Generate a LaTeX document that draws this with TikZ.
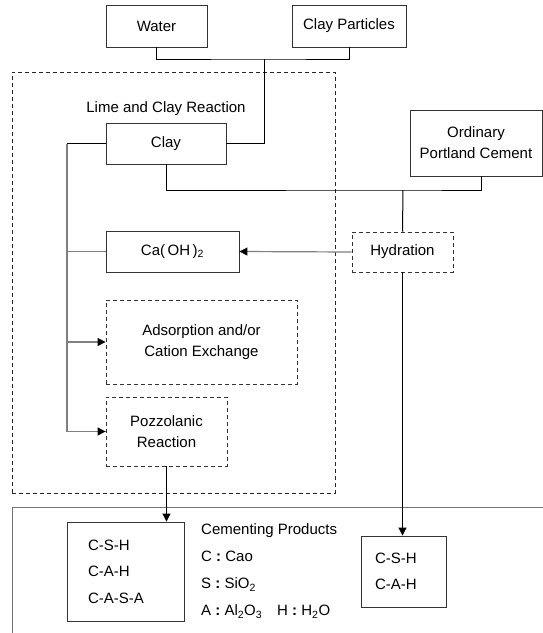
\documentclass[tikz,border=0pt]{standalone}
\usepackage{fontspec}
\setmainfont{Liberation Sans}
\usetikzlibrary{arrows.meta}

\begin{document}
\begin{tikzpicture}[
  x=1pt,y=-1pt,
  font=\fontsize{15}{21}\selectfont,
  box/.style={draw=black!80,line width=.9pt,fill=white,align=center,inner sep=2pt},
  dbox/.style={box,dash pattern=on 4pt off 3pt},
  region/.style={draw=black!85,line width=.9pt,dash pattern=on 4pt off 3pt,inner sep=0pt},
  bus/.style={draw=black,line width=1pt},
  branch/.style={draw=black!50,line width=1.4pt},
  arr/.style={draw=black!50,line width=1.2pt,-{Triangle[length=8pt,width=8pt,black]}},
  darr/.style={draw=black,line width=1pt,-{Triangle[length=8pt,width=8pt]}},
  frame/.style={draw=black!55,line width=1pt},
  listbox/.style={box,align=left,font=\fontsize{15}{26.5}\selectfont}
]
\useasboundingbox (0,0) rectangle (543,633);

\node[region,minimum width=323pt,minimum height=421pt] (lime) at (173.5,282.5) {};
\draw[frame] (12,633) |- (543,507);

\node[box,minimum width=101pt,minimum height=42pt] (water) at (156.5,26) {Water};
\node[box,minimum width=114pt,minimum height=42pt] (clayp) at (349,26) {Clay Particles};
\node (limelabel) at (166,109) {Lime and Clay Reaction};
\node[box,minimum width=120pt,minimum height=41pt] (clay) at (166,143.5) {Clay};
\node[box,minimum width=132pt,minimum height=66pt] (opc) at (476,143) {Ordinary\\Portland Cement};
\node[box,minimum width=133pt,minimum height=41pt] (caoh) at (172.5,251.5) {Ca(\,OH\,)\textsubscript{2}};
\node[dbox,minimum width=101pt,minimum height=40pt] (hyd) at (402.5,252) {Hydration};
\node[dbox,minimum width=191pt,minimum height=84pt] (adsorp) at (201.5,342) {Adsorption and/or\\Cation Exchange};
\node[dbox,minimum width=121pt,minimum height=69pt] (pozz) at (166.5,431.5) {Pozzolanic\\Reaction};

\node[listbox,text width=75pt,inner xsep=21pt,minimum height=99pt] (prodl) at (125.5,571.5) {C-S-H\\C-A-H\\C-A-S-A};
\node[listbox,text width=57pt,inner xsep=14pt,minimum height=71pt] (prodr) at (403.5,571.5) {C-S-H\\C-A-H};
\node[align=left,anchor=west,inner sep=0pt,font=\fontsize{15}{27}\selectfont] (legend) at (201,571) {Cementing Products\\
  C \textbf{:} Cao\\
  S \textbf{:} SiO\textsubscript{2}\\
  A \textbf{:} Al\textsubscript{2}O\textsubscript{3}\hspace{1em}H \textbf{:} H\textsubscript{2}O};

\coordinate (top) at (264,59);
\coordinate (mid) at (403,190);
\coordinate (left) at (67,143.5);

\draw[bus] (water.south) |- (top) -| (clayp.south);
\draw[bus] (top) |- (clay.east);
\draw[bus] (clay.south) |- (mid) -| ([xshift=5.5pt]opc.south);
\draw[bus] (mid) -- (hyd.north);
\draw[arr] (hyd.west) -- (caoh.east);
\draw[bus] (clay.west) -- (left);
\draw[branch] (left) |- (pozz.west);
\draw[branch] (caoh.west) -- (caoh.west -| left);
\draw[arr] (adsorp.west -| left) -- (adsorp.west);
\draw[arr] (pozz.west -| left) -- (pozz.west);
\draw[darr] (pozz.south) -- (pozz.south |- prodl.north);
\draw[darr] (hyd.south) -- (hyd.south |- prodr.north);
\end{tikzpicture}
\end{document}
